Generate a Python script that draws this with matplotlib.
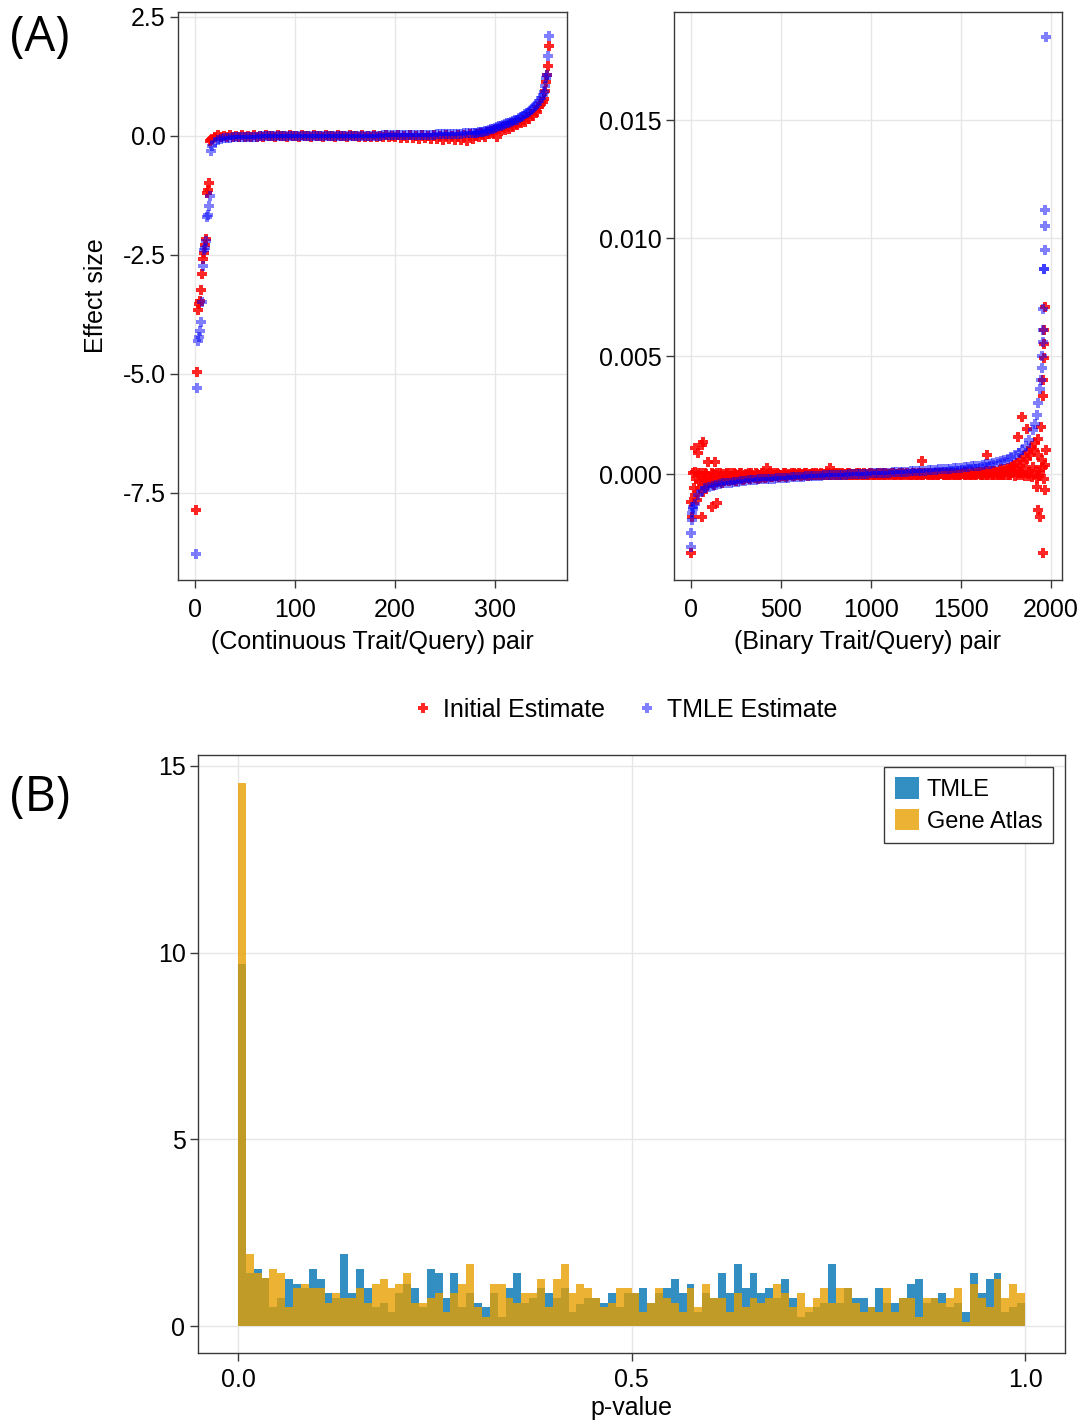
import numpy as np
import matplotlib
matplotlib.use("Agg")
import matplotlib.pyplot as plt
from matplotlib.lines import Line2D
from matplotlib.patches import Patch

plt.rcParams['font.family'] = ['Liberation Sans', 'DejaVu Sans']
plt.rcParams['axes.unicode_minus'] = False

# ---------------- Panel A, left: continuous traits ----------------
cont_head_x = [1, 2, 3, 4, 5, 6, 7, 8, 9, 10, 11, 12, 13, 14, 15, 16, 17]
cont_head_init = [-7.86, -4.97, -3.66, -3.53, -3.48, -3.24, -2.90, -2.59, -2.46, -2.29, -2.17,
                  -1.20, -1.13, -0.99, -0.10, -0.08, -0.06]
cont_head_tmle = [-8.78, -5.29, -4.32, -4.22, -4.11, -3.92, -3.50, -2.73, -2.40, -2.35, -2.20,
                  -1.70, -1.66, -1.48, -1.27, -0.31, -0.22]

cont_mid_x = list(range(20, 279, 3))
cont_mid_tmle = [-0.14, -0.09, -0.07, -0.05, -0.04, -0.04, -0.03, -0.03, -0.03, -0.02,
                 -0.02, -0.02, -0.02, -0.02, -0.02, -0.01, -0.01, -0.01, -0.01, -0.01,
                 -0.01, -0.01, -0.01, -0.01, -0.01, -0.01, -0.01, -0.01, 0.00, 0.00,
                 0.00, 0.00, 0.00, 0.00, 0.00, 0.00, 0.00, 0.00, 0.00, 0.00,
                 0.00, 0.00, 0.00, 0.00, 0.00, 0.00, 0.00, 0.00, 0.00, 0.00,
                 0.00, 0.00, 0.00, 0.00, 0.00, 0.00, 0.01, 0.01, 0.01, 0.01,
                 0.01, 0.01, 0.01, 0.01, 0.01, 0.01, 0.02, 0.02, 0.02, 0.02,
                 0.02, 0.02, 0.02, 0.02, 0.03, 0.03, 0.03, 0.03, 0.03, 0.04,
                 0.04, 0.04, 0.04, 0.05, 0.05, 0.05, 0.06]
cont_mid_init = [-0.02, 0.01, -0.03, 0.00, -0.02, 0.01, -0.03, 0.00, -0.02, 0.01,
                 -0.03, 0.00, -0.02, 0.01, -0.02, 0.00, -0.03, 0.01, -0.01, 0.00,
                 -0.02, 0.01, -0.01, 0.00, -0.02, 0.01, -0.01, 0.00, -0.02, 0.01,
                 -0.01, 0.00, -0.02, 0.01, -0.01, 0.00, -0.02, 0.01, -0.01, 0.00,
                 -0.02, 0.01, -0.01, 0.00, -0.03, 0.01, -0.01, 0.00, -0.02, 0.01,
                 -0.02, 0.00, -0.03, 0.01, -0.02, 0.00, -0.03, 0.01, -0.02, 0.00,
                 -0.03, 0.01, -0.04, 0.00, -0.05, 0.01, -0.04, 0.00, -0.06, 0.01,
                 -0.05, 0.00, -0.07, 0.01, -0.06, 0.00, -0.08, 0.02, -0.07, 0.00,
                 -0.09, 0.02, -0.08, 0.01, -0.10, 0.03, -0.07]

cont_tail_x = [280, 282, 284, 286, 288, 290, 292, 294, 296, 298, 300, 302, 304, 306, 308, 310,
               312, 314, 316, 318, 320, 322, 324, 326, 328, 330, 332, 334, 336, 338, 340, 342,
               344, 346, 348, 349, 350, 351, 352, 353, 354]
cont_tail_tmle = [0.06, 0.06, 0.07, 0.08, 0.09, 0.10, 0.11, 0.12, 0.14, 0.15, 0.17, 0.18, 0.20,
                  0.21, 0.23, 0.24, 0.26, 0.27, 0.29, 0.31, 0.33, 0.34, 0.37, 0.39, 0.42, 0.45,
                  0.48, 0.51, 0.55, 0.58, 0.62, 0.67, 0.73, 0.79, 0.86, 0.93, 1.05, 1.21, 1.28,
                  1.67, 2.09]
cont_tail_init = [0.00, 0.04, -0.02, 0.05, 0.02, -0.03, 0.08, 0.03, 0.10, 0.05, 0.12, -0.02,
                  0.15, 0.10, 0.18, 0.12, 0.20, 0.15, 0.24, 0.18, 0.27, 0.22, 0.30, 0.26, 0.34,
                  0.30, 0.40, 0.36, 0.46, 0.42, 0.52, 0.50, 0.60, 0.66, 0.72, 0.78, 0.95, 1.12,
                  1.28, 1.47, 1.89]

# ---------------- Panel A, right: binary traits (values in units of 1e-5) ----------------
bin_tmle_x = ([0, 2, 4, 7, 10, 14] + list(range(20, 1901, 20)) +
              [1910, 1920, 1930, 1940, 1944, 1948, 1951, 1954, 1956, 1958, 1960, 1962,
               1964, 1966, 1968, 1970])
bin_tmle_e5 = ([-308, -250, -195, -165, -150, -138] +
               [-125, -88, -70, -60, -55, -50, -46, -42, -40, -38,
                -36, -34, -32, -30, -28, -27, -25, -24, -23, -22,
                -21, -20, -19, -18, -17, -16, -15, -14, -13, -12,
                -11, -10, -10, -9, -8, -7, -6, -5, -5, -4,
                -3, -3, -2, -1, -1, 0, 0, 1, 2, 3,
                3, 4, 5, 5, 6, 7, 8, 8, 9, 10,
                11, 12, 13, 14, 15, 16, 17, 19, 20, 21,
                22, 23, 25, 26, 27, 29, 30, 32, 34, 36,
                38, 41, 44, 47, 50, 54, 59, 65, 72, 80,
                90, 103, 120, 145, 185] +
               [210, 250, 300, 360, 400, 450, 500, 560, 610, 700, 870, 870,
                950, 1050, 1120, 1850])

bin_init_band_x = list(range(0, 1800, 10))
bin_init_band_e5 = [-120, 5, -90, -20, 3, -60, -10, -40, 4, -50, -15, -35, 2, -45, -5, -30, 4, -40, -10, -25,
                    3, -30, -8, -20, 4, -28, -5, -18, 3, -25, -3, -15, 4, -22, -6, -14, 3, -20, -4, -12,
                    4, -15, -2, -10, 3, -14, -4, -8, 4, -12, -2, -7, 3, -11, -3, -6, 4, -10, -1, -5,
                    3, -8, 0, -5, 4, -7, -1, -4, 3, -6, 1, -3, 4, -6, 0, -3, 3, -5, 1, -2,
                    4, -5, 1, -2, 4, -4, 0, -3, 3, -4, 1, -2, 4, -4, 0, -2, 3, -3, 1, -2,
                    4, -3, 1, -2, 4, -4, 0, -2, 3, -3, 1, -1, 4, -3, 0, -2, 3, -3, 1, -1,
                    4, -3, 1, -2, 5, -4, 0, -2, 3, -3, 1, -1, 5, -3, 0, -2, 4, -3, 1, -1,
                    5, -3, 1, -2, 6, -4, 0, -2, 5, -3, 1, -1, 7, -3, 2, -2, 8, -3, 2, -1,
                    10, -4, 3, -2, 12, -4, 4, -2, 15, -5, 5, -2, 20, -5, 8, -3, 25, -6, 10, 35]
bin_init_band2_x = list(range(5, 1800, 10))
bin_init_band2_e5 = [-180, -60, 8, -110, -30, 6, -75, -25, 2, -40, -20, 4, -35, -8, 3, -28, -12, 2, -30, 0,
                     -22, 3, -12, -26, 2, -10, -22, 3, -8, -20, 2, -6, -18, 3, -8, -16, 2, -5, -15, 3,
                     -8, -12, 2, -5, -11, 3, -6, -9, 2, -4, -10, 3, -5, -7, 2, -3, -8, 3, -4, -6,
                     2, -3, -6, 3, -2, -5, 2, -1, -5, 3, -2, -4, 2, -1, -4, 3, -2, -3, 2, 0,
                     -3, 3, -1, -3, 2, 0, -3, 3, -1, -2, 2, 0, -3, 3, -1, -2, 2, 1, -2, 3,
                     -1, -2, 2, 1, -3, 3, -1, -2, 2, 1, -2, 3, -1, -2, 2, 1, -2, 3, 0, -2,
                     2, 1, -2, 4, 0, -2, 3, 1, -2, 4, 0, -2, 3, 2, -2, 4, 0, -2, 3, 2,
                     -2, 5, 0, -2, 4, 2, -2, 6, 1, -2, 5, 3, -2, 7, 1, -2, 6, 4, -2, 8,
                     2, -3, 9, 5, -3, 11, 3, -3, 14, 7, -4, 17, 4, -4, 22, 12, -5, 28, 6, 40]
bin_init_extra_x = [1800, 1810, 1820, 1830, 1840, 1850, 1860, 1870, 1880, 1890, 1900, 1910, 1920,
                    1930, 1940, 1950, 1960, 1965, 1970,
                    1805, 1815, 1825, 1835, 1845, 1855, 1865, 1875, 1885, 1895, 1905, 1915, 1925,
                    1935, 1945, 1955]
bin_init_extra_e5 = [-8, 45, 12, 60, -5, 75, 20, 95, -10, 110, 30, 130, -15,
                     80, 10, 60, -20, 40, 100,
                     20, -3, 35, 5, 50, -8, 65, 10, 80, -12, 100, 15, 150,
                     -10, 200, 30]
bin_init_out_x = [2, 22, 39, 67, 60, 94, 133, 143, 115, 59, 420, 772, 1281, 1643, 1819, 1837,
                  1869, 1920, 1967, 1929, 1939, 1957, 1955, 1958, 1960, 1962, 1963, 1965]
bin_init_out_e5 = [-335, 110, 90, 137, 125, 52, 52, -123, -140, -180, 25, 25, 55, 80, 158, 240,
                   190, -54, -68, -153, -180, -336, 330, 400, 490, 550, 610, 710]

# ---------------- Panel B: p-value histograms (density, 100 bins on [0, 1]) ----------------
pval_bin_edges = np.linspace(0.0, 1.0, 101)
tmle_density = [9.70, 1.43, 1.53, 1.28, 0.50, 0.74, 1.27, 1.14, 1.01, 1.53,
                1.27, 0.875, 0.74, 1.93, 0.875, 1.53, 1.01, 0.50, 0.625, 0.375,
                0.875, 1.14, 1.01, 0.50, 1.53, 1.41, 0.74, 1.41, 0.50, 0.875,
                0.625, 0.50, 0.875, 0.25, 1.01, 1.41, 0.625, 0.74, 1.01, 0.875,
                0.74, 1.01, 0.375, 0.60, 0.74, 0.74, 0.625, 0.875, 0.50, 0.875,
                0.875, 1.01, 0.625, 0.875, 1.01, 1.27, 0.875, 1.14, 0.375, 0.875,
                0.74, 1.41, 0.875, 1.66, 1.01, 1.41, 0.875, 1.01, 0.75, 1.27,
                0.74, 0.25, 0.375, 0.50, 0.625, 1.66, 0.625, 1.01, 0.74, 0.74,
                0.50, 1.01, 0.625, 0.625, 0.74, 1.14, 1.27, 0.625, 0.74, 0.875,
                0.50, 0.625, 0.375, 1.41, 0.875, 1.27, 1.41, 0.375, 0.50, 0.625]
gene_atlas_density = [14.55, 1.93, 1.41, 1.28, 1.53, 1.41, 0.50, 1.01, 1.14, 1.01,
                      1.01, 0.625, 0.875, 0.74, 0.74, 1.01, 0.625, 1.14, 1.27, 1.01,
                      1.14, 1.41, 0.625, 0.625, 0.74, 0.875, 0.375, 0.875, 1.14, 1.66,
                      0.50, 0.25, 1.14, 1.14, 0.74, 0.625, 0.875, 0.875, 1.27, 0.50,
                      1.27, 1.66, 0.875, 1.14, 1.01, 0.74, 0.50, 0.625, 1.01, 1.01,
                      0.875, 0.375, 0.625, 1.01, 0.74, 0.625, 0.375, 1.01, 0.50, 1.14,
                      0.74, 0.74, 0.375, 0.875, 0.50, 0.74, 0.625, 0.74, 1.14, 0.875,
                      0.50, 0.875, 0.50, 0.74, 1.01, 0.625, 1.01, 1.01, 0.625, 0.375,
                      0.50, 0.375, 1.01, 0.375, 0.74, 0.74, 0.25, 0.74, 0.74, 0.625,
                      0.74, 1.01, 0.12, 1.14, 0.74, 0.50, 1.27, 0.74, 1.14, 0.875]

# ---------------- styling ----------------
RED = '#ff0000'
BLUE = '#0000ff'
TMLE_C = '#0072B2'
GA_C = '#E69F00'
FS = 18

W, H = 1085, 1425
fig = plt.figure(figsize=(W / 100, H / 100), dpi=100)
ax1 = fig.add_axes([178 / W, 1 - 580 / H, 389 / W, 568 / H])
ax2 = fig.add_axes([674 / W, 1 - 580 / H, 388 / W, 568 / H])
ax3 = fig.add_axes([198 / W, 1 - 1353 / H, 867 / W, 598 / H])


def style(ax, xpad=7):
    for s in ax.spines.values():
        s.set_color('#3a3a3a')
        s.set_linewidth(1.0)
    ax.grid(True, color='#e6e6e6', linewidth=1.0)
    ax.set_axisbelow(True)
    ax.tick_params(direction='out', length=6, width=1, color='#3a3a3a',
                   labelsize=FS, pad=3)
    ax.tick_params(axis='x', pad=xpad)


MS = 58
# continuous
cx = cont_head_x + cont_mid_x + cont_tail_x
ci = cont_head_init + cont_mid_init + cont_tail_init
ct = cont_head_tmle + cont_mid_tmle + cont_tail_tmle
ax1.scatter(cx, ci, marker='P', s=MS, color=RED, alpha=0.85, linewidths=0, zorder=3)
ax1.scatter(cx, ct, marker='P', s=MS, color=BLUE, alpha=0.5, linewidths=0, zorder=4)
ax1.set_xlim(-17, 372)
ax1.set_ylim(-9.33, 2.6)
ax1.set_xticks([0, 100, 200, 300])
ax1.set_yticks([2.5, 0.0, -2.5, -5.0, -7.5])
ax1.set_yticklabels(['2.5', '0.0', '-2.5', '-5.0', '-7.5'])
ax1.set_xlabel('(Continuous Trait/Query) pair', fontsize=FS, labelpad=6)
ax1.set_ylabel('Effect size', fontsize=FS, labelpad=10)
style(ax1)

# binary
bix = bin_init_band_x + bin_init_band2_x + bin_init_extra_x + bin_init_out_x
biy = np.array(bin_init_band_e5 + bin_init_band2_e5 + bin_init_extra_e5 + bin_init_out_e5) * 1e-5
ax2.scatter(bix, biy, marker='P', s=MS, color=RED, alpha=0.85, linewidths=0, zorder=3)
ax2.scatter(bin_tmle_x, np.array(bin_tmle_e5) * 1e-5, marker='P', s=MS, color=BLUE,
            alpha=0.5, linewidths=0, zorder=4)
ax2.set_xlim(-94, 2061)
ax2.set_ylim(-0.00449, 0.01958)
ax2.set_xticks([0, 500, 1000, 1500, 2000])
ax2.set_yticks([0.0, 0.005, 0.010, 0.015])
ax2.set_yticklabels(['0.000', '0.005', '0.010', '0.015'])
ax2.set_xlabel('(Binary Trait/Query) pair', fontsize=FS, labelpad=6)
style(ax2)

# legend for panel A
hA = [Line2D([], [], marker='P', ls='none', color=RED, alpha=0.85, markersize=7, markeredgewidth=0),
      Line2D([], [], marker='P', ls='none', color=BLUE, alpha=0.5, markersize=7, markeredgewidth=0)]
fig.legend(hA, ['Initial Estimate', 'TMLE Estimate'], loc='center',
           bbox_to_anchor=(624 / W, 1 - 710 / H), ncol=2, frameon=False, fontsize=FS,
           handletextpad=0.3, columnspacing=1.2, handlelength=1.0)

# histogram
ax3.stairs(tmle_density, pval_bin_edges, fill=True, color=TMLE_C, alpha=0.8, linewidth=0, zorder=2)
ax3.stairs(gene_atlas_density, pval_bin_edges, fill=True, color=GA_C, alpha=0.8, linewidth=0, zorder=3)
ax3.set_xlim(-0.0508, 1.0508)
ax3.set_ylim(-0.72, 15.29)
ax3.set_xticks([0.0, 0.5, 1.0])
ax3.set_xticklabels(['0.0', '0.5', '1.0'])
ax3.set_yticks([0, 5, 10, 15])
ax3.set_xlabel('p-value', fontsize=FS, labelpad=3)
style(ax3, xpad=5)
hB = [Patch(facecolor=TMLE_C, alpha=0.8), Patch(facecolor=GA_C, alpha=0.8)]
leg = ax3.legend(hB, ['TMLE', 'Gene Atlas'], loc='upper right', fontsize=17, frameon=True,
                 fancybox=False, edgecolor='#3a3a3a', framealpha=1, borderaxespad=0.5,
                 handlelength=1.0, handleheight=1.05, handletextpad=0.35, labelspacing=0.3,
                 borderpad=0.45)
leg.get_frame().set_linewidth(1.0)

# panel labels
fig.text(10 / W, 1 - 38 / H, '(A)', fontsize=35, family=['Open Sans', 'DejaVu Sans'],
         ha='left', va='center')
fig.text(10 / W, 1 - 798 / H, '(B)', fontsize=35, family=['Open Sans', 'DejaVu Sans'],
         ha='left', va='center')

fig.savefig('out.png', dpi=100, facecolor='white')
